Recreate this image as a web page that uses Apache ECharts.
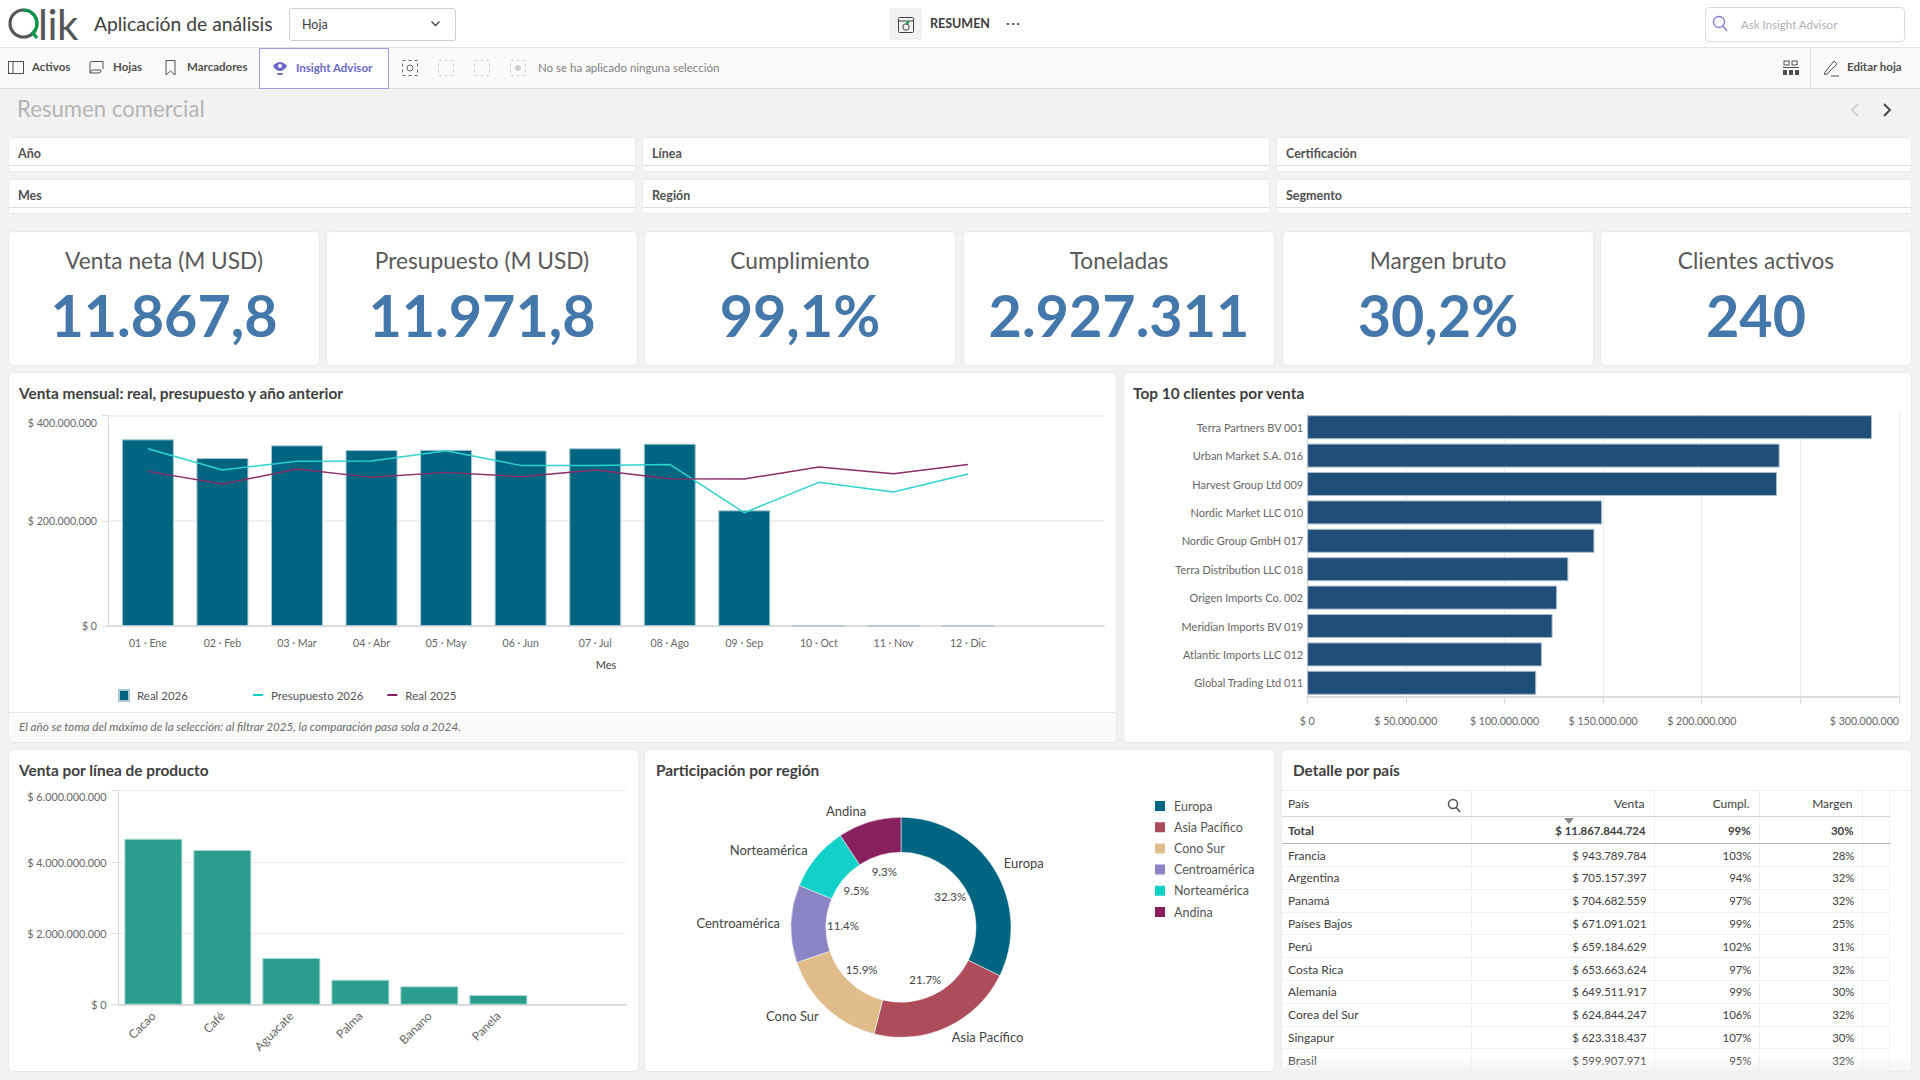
<!DOCTYPE html>
<html lang="es">
<head>
<meta charset="UTF-8">
<title>Resumen comercial</title>
<script src="https://cdn.jsdelivr.net/npm/echarts@6/dist/echarts.min.js"></script>
<style>
html,body{margin:0;padding:0;width:1920px;height:1080px;overflow:hidden;background:#f2f2f2;font-family:Lato,sans-serif;color:#404040}
.a{position:absolute;white-space:nowrap}
.bar1{left:0;top:0;width:1920px;height:47px;background:#fff;border-bottom:1px solid #e4e4e4}
.bar2{left:0;top:48px;width:1920px;height:40px;background:#fafafa;border-bottom:1px solid #dcdcdc}
.tb{top:59px;font-size:11.5px;line-height:16px;font-weight:700;color:#505050}
.card{position:absolute;background:#fff;border-radius:4px;box-shadow:0 0 2px rgba(0,0,0,.12);overflow:hidden}
.filter{position:absolute;background:#fff;height:33px;border-radius:2px;box-shadow:0 0 2px rgba(0,0,0,.1)}
.filter:after{content:"";position:absolute;left:0;right:0;bottom:5px;height:1px;background:#dedede}
.filter span{position:absolute;left:9px;top:8px;font-size:12.5px;line-height:16px;font-weight:700;color:#505050}
.kpi .t{position:absolute;left:0;right:0;top:15px;text-align:center;font-size:22.7px;line-height:28px;color:#595959}
.kpi .v{position:absolute;left:0;right:0;top:48px;text-align:center;font-size:57.5px;line-height:70px;font-weight:700;color:#4477aa}
.ct{position:absolute;font-size:15.4px;line-height:18px;font-weight:700;color:#404040;white-space:nowrap}
#main{position:absolute;left:0;top:0;width:1920px;height:1080px}
table{position:absolute;left:1282px;top:791px;width:608px;table-layout:fixed;border-collapse:collapse;font-size:12px;color:#404040}
td,th{padding:0 7px 0 6px;overflow:hidden;white-space:nowrap;border-right:1px solid #f0f0f0;font-weight:400;text-align:right;border-bottom:1px solid #f0f0f0;height:21.8px;font-size:11.4px}
td:first-child,th:first-child{text-align:left;font-size:12px}
th{height:25.3px;border-bottom:1px solid #d5d5d5;padding-right:9px;font-size:12px}
tr.tot td{font-weight:700;height:26px;border-bottom:1px solid #b5b5b5;padding-right:8px}
</style>
</head>
<body>
<div class="a bar1"></div>
<div class="a bar2"></div>

<!-- cabecera -->
<svg class="a" style="left:8px;top:8px" width="32" height="32" viewBox="0 0 32 32" fill="none">
  <circle cx="15.5" cy="15.5" r="13.5" stroke="#54565a" stroke-width="3.2"/>
  <path d="M15.5 2A13.5 13.5 0 0 1 25 25L29 30" stroke="#009845" stroke-width="3.2"/>
</svg>
<div class="a" style="left:38px;top:5px;font-size:42px;line-height:38px;font-weight:400;color:#54565a;letter-spacing:-.5px">lik</div>
<div class="a" style="left:94px;top:12px;font-size:19.3px;line-height:24px;color:#404040">Aplicación de análisis</div>
<div class="a" style="left:289px;top:8px;width:165px;height:31px;background:#fff;border:1px solid #cfcfcf;border-radius:3px"></div>
<div class="a" style="left:302px;top:17px;font-size:12.5px;line-height:16px">Hoja</div>
<svg class="a" style="left:430px;top:20px" width="11" height="8"><path d="M1.5 1.5L5.5 5.5L9.5 1.5" fill="none" stroke="#404040" stroke-width="1.3"/></svg>
<div class="a" style="left:889px;top:8px;width:33px;height:32px;background:#f2f2f2;border-radius:4px"></div>
<svg class="a" style="left:898px;top:17px" width="16" height="16" fill="none" stroke="#404040"><rect x=".5" y=".5" width="15" height="15" rx="1"/><path d="M1 4H15"/><circle cx="8" cy="10" r="3.2"/><path d="M8 6.8L11 5" stroke="#009845" stroke-width="2"/></svg>
<div class="a" style="left:930px;top:16px;font-size:12.5px;line-height:16px;font-weight:700;color:#404040">RESUMEN</div>
<div class="a" style="left:1006px;top:15px;font-size:14px;line-height:16px;letter-spacing:1.5px;color:#404040">···</div>
<div class="a" style="left:1705px;top:7px;width:198px;height:33px;background:#fff;border:1px solid #dcdcdc;border-radius:4px"></div>
<svg class="a" style="left:1712px;top:15px" width="16" height="18" fill="none" stroke="#7a78d0" stroke-width="1.3"><circle cx="7" cy="7" r="5.5"/><path d="M11 11L15 16"/></svg>
<div class="a" style="left:1741px;top:17px;font-size:11.5px;line-height:15px;color:#b0b0b0">Ask Insight Advisor</div>

<!-- barra de herramientas -->
<svg class="a" style="left:8px;top:61px" width="16" height="13" fill="none" stroke="#505050"><rect x=".5" y=".5" width="15" height="12"/><path d="M5 0V13"/></svg>
<div class="a tb" style="left:32px">Activos</div>
<svg class="a" style="left:89px;top:61px" width="17" height="13" fill="none" stroke="#505050"><path d="M1 12V2Q1 .5 2.500 .5H14V8M1 12H10Q12 12 12 9H4Q1.500 9 1 12Z"/></svg>
<div class="a tb" style="left:113px">Hojas</div>
<svg class="a" style="left:165px;top:60px" width="11" height="16" fill="none" stroke="#505050"><path d="M1 .5H10V15L5.500 11L1 15Z"/></svg>
<div class="a tb" style="left:187px">Marcadores</div>
<div class="a" style="left:259px;top:48px;width:128px;height:39px;border:1.500px solid #a09ddd;background:#fff"></div>
<svg class="a" style="left:272px;top:60px" width="16" height="16"><path d="M1 6Q8 -2 15 6Q12 11 8 11Q4 11 1 6Z" fill="#6a67c9"/><circle cx="8" cy="6" r="2" fill="#fff"/><rect x="5.500" y="13" width="5" height="2" fill="#6a67c9"/></svg>
<div class="a tb" style="left:296px;color:#6a67c9;top:60px">Insight Advisor</div>
<svg class="a" style="left:402px;top:60px" width="16" height="16" fill="none" stroke="#666" stroke-dasharray="3 3"><rect x=".5" y=".5" width="15" height="15"/><circle cx="8" cy="8" r="3" stroke-dasharray="none"/></svg>
<svg class="a" style="left:438px;top:60px" width="16" height="16" fill="none" stroke="#ccc" stroke-dasharray="3 3"><rect x=".5" y=".5" width="15" height="15"/></svg>
<svg class="a" style="left:474px;top:60px" width="16" height="16" fill="none" stroke="#ccc" stroke-dasharray="3 3"><rect x=".5" y=".5" width="15" height="15"/></svg>
<svg class="a" style="left:510px;top:60px" width="16" height="16" fill="none" stroke="#ccc" stroke-dasharray="3 3"><rect x=".5" y=".5" width="15" height="15"/><circle cx="8" cy="8" r="2.500" fill="#ccc" stroke-dasharray="none"/></svg>
<div class="a" style="left:538px;top:60px;font-size:11.500px;line-height:16px;color:#808080">No se ha aplicado ninguna selección</div>
<svg class="a" style="left:1783px;top:60px" width="16" height="16" fill="#505050"><rect x="1" y="1" width="5" height="4" fill="none" stroke="#505050"/><rect x="9" y="1" width="5" height="4" fill="none" stroke="#505050"/><rect x="0" y="7" width="16" height="1"/><rect x="0" y="10" width="4" height="5"/><rect x="6" y="10" width="4" height="5"/><rect x="12" y="10" width="4" height="5"/></svg>
<div class="a" style="left:1810px;top:48px;width:1px;height:40px;background:#dcdcdc"></div>
<svg class="a" style="left:1823px;top:59px" width="17" height="18" fill="none" stroke="#505050"><path d="M2 13L11 2L14 5L4 15L1.500 15.500Z"/><path d="M8 17H16"/></svg>
<div class="a tb" style="left:1847px">Editar hoja</div>

<!-- título de hoja -->
<div class="a" style="left:17px;top:95px;font-size:22.2px;line-height:28px;color:#b5b5b5">Resumen comercial</div>
<svg class="a" style="left:1850px;top:102px" width="10" height="16" fill="none" stroke="#c8c8c8" stroke-width="1.500"><path d="M8 2L2 8L8 14"/></svg>
<svg class="a" style="left:1882px;top:102px" width="10" height="16" fill="none" stroke="#404040" stroke-width="1.800"><path d="M2 2L8 8L2 14"/></svg>

<div id="filtros"></div>
<div id="kpis"></div>

<!-- tarjetas de gráficos -->
<div class="card" style="left:9px;top:373px;width:1107px;height:369px"></div>
<div class="a" style="left:9px;top:712px;width:1107px;height:29px;background:#fafafa;border-top:1px solid #e6e6e6;border-radius:0 0 4px 4px"></div>
<div class="card" style="left:1124px;top:373px;width:787px;height:369px"></div>
<div class="card" style="left:9px;top:750px;width:629px;height:321px"></div>
<div class="card" style="left:645px;top:750px;width:629px;height:321px"></div>
<div class="card" style="left:1282px;top:750px;width:629px;height:321px"></div>

<div class="ct" style="left:19px;top:384px">Venta mensual: real, presupuesto y año anterior</div>
<div class="a" style="left:19px;top:718px;font-size:11.66px;line-height:16px;font-style:italic;color:#6a6a6a">El año se toma del máximo de la selección: al filtrar 2025, la comparación pasa sola a 2024.</div>
<div class="ct" style="left:1133px;top:384px">Top 10 clientes por venta</div>
<div class="ct" style="left:19px;top:761px">Venta por línea de producto</div>
<div class="ct" style="left:656px;top:761px">Participación por región</div>
<div class="ct" style="left:1293px;top:761px">Detalle por país</div>

<div class="a" style="left:1282px;top:790px;width:629px;height:1px;background:#efefef"></div>
<table id="tabla"></table>
<svg class="a" style="left:1447px;top:798px" width="14" height="15" fill="none" stroke="#505050" stroke-width="1.500"><circle cx="6" cy="6" r="4.500"/><path d="M9.500 9.500L13 14"/></svg>
<svg class="a" style="left:1564px;top:818px" width="10" height="6"><path d="M0 0H10L5 6Z" fill="#8a8a8a"/></svg>
<div class="a" style="left:1282px;top:1055px;width:629px;height:16px;background:linear-gradient(rgba(240,240,240,0),rgba(232,232,232,.45));border-radius:0 0 4px 4px"></div>

<div id="main"></div>

<script type="text/javascript">
// filtros y KPI
var filtros = ['Año', 'Línea', 'Certificación', 'Mes', 'Región', 'Segmento'];
var kpiTitulos = ['Venta neta (M USD)', 'Presupuesto (M USD)', 'Cumplimiento', 'Toneladas', 'Margen bruto', 'Clientes activos'];
var kpiValores = ['11.867,8', '11.971,8', '99,1%', '2.927.311', '30,2%', '240'];

// venta mensual
var meses = ['01 · Ene', '02 · Feb', '03 · Mar', '04 · Abr', '05 · May', '06 · Jun', '07 · Jul', '08 · Ago', '09 · Sep', '10 · Oct', '11 · Nov', '12 · Dic'];
var real2026 = [355e6, 319.6e6, 343.6e6, 334.7e6, 335e6, 334e6, 338e6, 346.8e6, 220e6, 0, 0, 0];
var presupuesto2026 = [337.2e6, 296.7e6, 313.2e6, 313.8e6, 333.4e6, 305.5e6, 305.5e6, 307.4e6, 215.5e6, 273.2e6, 254.8e6, 289.1e6];
var real2025 = [294.1e6, 270e6, 298.6e6, 282.7e6, 292.2e6, 284e6, 296.7e6, 280.2e6, 279.6e6, 302.4e6, 289.7e6, 307.4e6];

// top 10 clientes
var clientes = ['Terra Partners BV 001', 'Urban Market S.A. 016', 'Harvest Group Ltd 009', 'Nordic Market LLC 010', 'Nordic Group GmbH 017', 'Terra Distribution LLC 018', 'Origen Imports Co. 002', 'Meridian Imports BV 019', 'Atlantic Imports LLC 012', 'Global Trading Ltd 011'];
var ventaClientes = [286.3e6, 239.5e6, 238.2e6, 149.5e6, 145.6e6, 132.4e6, 126.7e6, 124.4e6, 119e6, 116.1e6];
var ticksClientes = [0, 50e6, 100e6, 150e6, 200e6, 300e6];

// líneas de producto
var lineas = ['Cacao', 'Café', 'Aguacate', 'Palma', 'Banano', 'Panela'];
var ventaLineas = [4.654e9, 4.336e9, 1.308e9, 0.7e9, 0.514e9, 0.271e9];

// regiones
var regiones = ['Europa', 'Asia Pacífico', 'Cono Sur', 'Centroamérica', 'Norteamérica', 'Andina'];
var partRegiones = [32.3, 21.7, 15.9, 11.4, 9.5, 9.3];
var coloresRegiones = ['#006580', '#ad4c5a', '#dfbc8a', '#8c85c5', '#12d1c9', '#882060'];

// detalle por país
var columnas = ['País', 'Venta', 'Cumpl.', 'Margen'];
var total = ['Total', '$ 11.867.844.724', '99%', '30%'];
var paises = ['Francia', 'Argentina', 'Panamá', 'Países Bajos', 'Perú', 'Costa Rica', 'Alemania', 'Corea del Sur', 'Singapur', 'Brasil'];
var ventaPaises = ['$ 943.789.784', '$ 705.157.397', '$ 704.682.559', '$ 671.091.021', '$ 659.184.629', '$ 653.663.624', '$ 649.511.917', '$ 624.844.247', '$ 623.318.437', '$ 599.907.971'];
var cumplPaises = ['103%', '94%', '97%', '99%', '102%', '97%', '99%', '106%', '107%', '95%'];
var margenPaises = ['28%', '32%', '32%', '25%', '31%', '32%', '30%', '32%', '30%', '32%'];

// cajas de filtro
var fx = [9, 643, 1277], fw = [626, 626, 634], fy = [138, 180];
var html = '';
for (var i = 0; i < filtros.length; i++) {
    html += '<div class="filter" style="left:' + fx[i % 3] + 'px;top:' + fy[Math.floor(i / 3)] + 'px;width:' + fw[i % 3] + 'px"><span>' + filtros[i] + '</span></div>';
}
document.getElementById('filtros').innerHTML = html;

// tarjetas KPI
var kx = [9, 327, 645, 964, 1283, 1601];
html = '';
for (var i = 0; i < kpiTitulos.length; i++) {
    html += '<div class="card kpi" style="left:' + kx[i] + 'px;top:232px;width:310px;height:133px"><div class="t">' + kpiTitulos[i] + '</div><div class="v">' + kpiValores[i] + '</div></div>';
}
document.getElementById('kpis').innerHTML = html;

// tabla
html = '<colgroup><col style="width:189px"><col style="width:183px"><col style="width:105px"><col style="width:103px"><col></colgroup>';
html += '<tr><th>' + columnas.join('</th><th>') + '</th><th></th></tr>';
html += '<tr class="tot"><td>' + total.join('</td><td>') + '</td><td></td></tr>';
for (var i = 0; i < paises.length; i++) {
    html += '<tr><td>' + paises[i] + '</td><td>' + ventaPaises[i] + '</td><td>' + cumplPaises[i] + '</td><td>' + margenPaises[i] + '</td><td></td></tr>';
}
document.getElementById('tabla').innerHTML = html;

function moneda(v) {
    return '$ ' + v.toLocaleString('de-DE');
}
function puntos(arr) {
    return arr.map(function (v, i) { return [i + 1, v]; });
}
function posiciones(arr) {
    return arr.map(function (v, i) { return i + 1; });
}

var gris = '#666666';
var labelBase = {color: gris, fontFamily: 'Lato', fontSize: 10.6};

var myChart = echarts.init(document.getElementById('main'), null, {renderer: 'svg'});
var option = {
    animation: false,
    textStyle: {fontFamily: 'Lato'},
    grid: [
        {left: 108, top: 415.7, width: 996, height: 210.3},
        {left: 1307.2, top: 413, width: 591.8, height: 284},
        {left: 118.6, top: 790.7, width: 507.4, height: 214}
    ],
    legend: [
        {
            data: ['Real 2026'], left: 118, top: 689, padding: 0, itemWidth: 10, itemHeight: 11, icon: 'rect', selectedMode: false,
            textStyle: {color: '#555', fontSize: 11.5, fontFamily: 'Lato', padding: [0, 0, 0, 3]}
        },
        {
            data: ['Presupuesto 2026', 'Real 2025'], left: 253, top: 689, padding: 0, itemWidth: 10, itemHeight: 2, itemGap: 24, icon: 'rect', selectedMode: false,
            textStyle: {color: '#555', fontSize: 11.5, fontFamily: 'Lato', padding: [0, 0, 0, 3]}
        },
        {
            data: regiones, left: 1153, top: 799, padding: 0, orient: 'vertical', itemWidth: 12, itemHeight: 12, itemGap: 7.2, icon: 'rect', selectedMode: false,
            textStyle: {color: '#555', fontSize: 12.5, fontFamily: 'Lato', padding: [0, 0, 0, 3]}
        }
    ],
    xAxis: [
        {
            gridIndex: 0, type: 'value', min: 0.465, max: 13.825,
            name: 'Mes', nameLocation: 'middle', nameGap: 33, nameTextStyle: {color: '#444', fontFamily: 'Lato', fontSize: 11},
            axisLine: {onZero: false, lineStyle: {color: '#dcdcdc', width: 2}},
            axisTick: {show: false}, splitLine: {show: false},
            axisLabel: Object.assign({}, labelBase, {margin: 11, customValues: posiciones(meses), formatter: function (v) { return meses[v - 1]; }})
        },
        {
            gridIndex: 1, type: 'value', min: 0, max: 300e6, interval: 50e6,
            axisLine: {show: true, lineStyle: {color: '#dcdcdc', width: 2}},
            axisTick: {show: true, length: 7, lineStyle: {color: '#dcdcdc'}},
            splitLine: {lineStyle: {color: '#ececec'}},
            axisLabel: Object.assign({}, labelBase, {margin: 18, customValues: ticksClientes, alignMaxLabel: 'right', formatter: moneda})
        },
        {
            gridIndex: 2, type: 'value', min: 0.496, max: 7.85,
            axisLine: {onZero: false, lineStyle: {color: '#dcdcdc', width: 2}},
            axisTick: {show: false}, splitLine: {show: false},
            axisLabel: Object.assign({}, labelBase, {margin: 9, rotate: 45, fontSize: 12, customValues: posiciones(lineas), formatter: function (v) { return lineas[v - 1]; }})
        }
    ],
    yAxis: [
        {
            gridIndex: 0, type: 'value', min: 0, max: 400e6, interval: 200e6,
            axisLine: {show: true, lineStyle: {color: '#dcdcdc'}},
            axisTick: {show: true, length: 6, lineStyle: {color: '#dcdcdc'}},
            splitLine: {lineStyle: {color: '#f0f0f0', width: 2}},
            axisLabel: Object.assign({}, labelBase, {margin: 11, padding: [2, 0, 0, 0], verticalAlignMaxLabel: 'top', formatter: moneda})
        },
        {
            gridIndex: 1, type: 'category', inverse: true, data: clientes,
            axisLine: {lineStyle: {color: '#dcdcdc'}},
            axisTick: {show: false},
            axisLabel: Object.assign({}, labelBase, {margin: 4, fontSize: 11})
        },
        {
            gridIndex: 2, type: 'value', min: 0, max: 6e9, interval: 2e9,
            axisLine: {show: true, lineStyle: {color: '#d5d5d5'}},
            axisTick: {show: true, length: 7, lineStyle: {color: '#dcdcdc'}},
            splitLine: {lineStyle: {color: '#ececec'}},
            axisLabel: Object.assign({}, labelBase, {margin: 12, fontSize: 10.8, verticalAlignMaxLabel: 'top', formatter: moneda})
        }
    ],
    series: [
        {
            name: 'Real 2026', type: 'bar', xAxisIndex: 0, yAxisIndex: 0, barWidth: 52, data: puntos(real2026),
            itemStyle: {color: '#006580', borderColor: '#a8c8d2', borderWidth: 1}
        },
        {
            name: 'Presupuesto 2026', type: 'line', xAxisIndex: 0, yAxisIndex: 0, data: puntos(presupuesto2026),
            showSymbol: false, lineStyle: {color: '#2ed3cd', width: 1.5}, itemStyle: {color: '#12d1c9'}
        },
        {
            name: 'Real 2025', type: 'line', xAxisIndex: 0, yAxisIndex: 0, data: puntos(real2025),
            showSymbol: false, lineStyle: {color: '#8b2e66', width: 1.5}, itemStyle: {color: '#882060'}
        },
        {
            name: 'Venta clientes', type: 'bar', xAxisIndex: 1, yAxisIndex: 1, barWidth: 24, data: ventaClientes,
            itemStyle: {color: '#1f4e79', borderColor: '#a9bccd', borderWidth: 1}
        },
        {
            name: 'Venta líneas', type: 'bar', xAxisIndex: 2, yAxisIndex: 2, barWidth: 58, data: puntos(ventaLineas),
            itemStyle: {color: '#2a9d8f', borderColor: '#a5d8d1', borderWidth: 1}
        },
        {
            name: 'Regiones', type: 'pie', center: [901, 927.3], radius: [75, 110], startAngle: 90, avoidLabelOverlap: false,
            data: regiones.map(function (r, i) { return {name: r, value: partRegiones[i], itemStyle: {color: coloresRegiones[i]}}; }),
            itemStyle: {borderColor: '#fff', borderWidth: 0.5},
            label: {show: true, position: 'outside', color: '#444', fontFamily: 'Lato', fontSize: 13},
            labelLine: {show: false, length: 11, length2: -5}
        },
        {
            name: 'Porcentajes', type: 'pie', center: [901, 927.3], radius: [54, 56], startAngle: 90, silent: true, avoidLabelOverlap: false,
            data: regiones.map(function (r, i) { return {name: r, value: partRegiones[i]}; }),
            itemStyle: {color: 'rgba(0,0,0,0)'},
            label: {show: true, position: 'inside', color: '#444', fontFamily: 'Lato', fontSize: 11.5, formatter: function (p) { return p.value.toFixed(1) + '%'; }},
            labelLine: {show: false}
        }
    ]
};
myChart.setOption(option);
</script>
</body>
</html>
